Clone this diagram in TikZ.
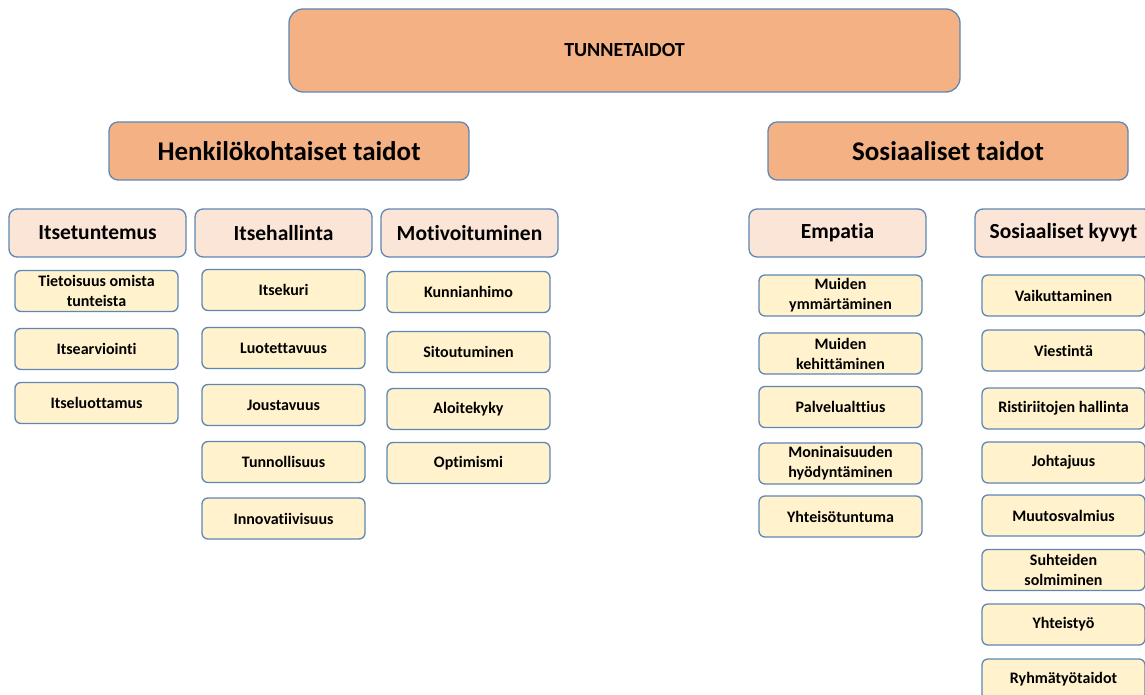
\documentclass[tikz,border=0pt]{standalone}
\usepackage{fontspec}
\setmainfont{Carlito}[Ligatures=NoCommon]
\usetikzlibrary{positioning}
\definecolor{peach}{HTML}{F4B183}
\definecolor{lightpeach}{HTML}{FBE5D6}
\definecolor{cream}{HTML}{FFF2CC}
\definecolor{edgeblue}{HTML}{5E87B5}

\begin{document}
\begin{tikzpicture}[
    x=1pt, y=-1pt,
    box/.style={draw=edgeblue, line width=1.3pt, align=center, inner sep=1pt, font=\bfseries},
    root/.style={box, fill=peach, rounded corners=14pt, minimum width=671pt, minimum height=83pt, font=\bfseries\fontsize{20}{24}\selectfont},
    branch/.style={box, fill=peach, rounded corners=9pt, minimum width=360pt, minimum height=58pt, font=\bfseries\fontsize{27}{30}\selectfont},
    group/.style={box, fill=lightpeach, rounded corners=8pt, minimum width=177pt, minimum height=48pt, font=\bfseries\fontsize{21.5}{24}\selectfont},
    leaf/.style={box, fill=cream, rounded corners=6pt, minimum width=163pt, minimum height=41pt, font=\bfseries\fontsize{16}{20}\selectfont},
]
    \useasboundingbox (0,0) rectangle (1145,695);

    % --- Top levels ---
    \node[root] (tunne) at (624.5, 50.5) {TUNNETAIDOT};
    \node[branch] (henk) at (289, 151) {Henkilökohtaiset taidot};
    \node[branch] (sos) at (948, 151) {Sosiaaliset taidot};

    % --- Groups ---
    \node[group] (itsetunt) at (97.5, 233) {Itsetuntemus};
    \node[group] (itsehall) at (283.5, 233) {Itsehallinta};
    \node[group] (motiv) at (469.5, 233) {Motivoituminen};
    \node[group] (empatia) at (837.5, 233) {Empatia};
    \node[group] (kyvyt) at (1063.5, 233) {Sosiaaliset kyvyt};

    % --- Leaves ---
    \foreach \y/\t [count=\i] in {291/{Tietoisuus omista\\tunteista}, 349/Itsearviointi, 403/Itseluottamus}
        \node[leaf] (tunt\i) at (96.5, \y) {\t};
    \foreach \y/\t [count=\i] in {290/Itsekuri, 348/Luotettavuus, 405/Joustavuus, 462/Tunnollisuus, 518.5/Innovatiivisuus}
        \node[leaf] (hall\i) at (283.5, \y) {\t};
    \foreach \y/\t [count=\i] in {292/Kunnianhimo, 352/Sitoutuminen, 409/Aloitekyky, 463/Optimismi}
        \node[leaf] (moti\i) at (468.5, \y) {\t};
    \foreach \y/\t [count=\i] in {295.5/{Muiden\\ymmärtäminen}, 353.5/{Muiden\\kehittäminen}, 407/Palvelualttius, 463.5/{Moninaisuuden\\hyödyntäminen}, 516.5/Yhteisötuntuma}
        \node[leaf] (empa\i) at (840.5, \y) {\t};
    \foreach \y/\t [count=\i] in {295.5/Vaikuttaminen, 350.5/Viestintä, 408.5/Ristiriitojen hallinta, 462.5/Johtajuus, 515.5/Muutosvalmius, 570/{Suhteiden\\solmiminen}, 624.5/Yhteistyö, 679.5/Ryhmätyötaidot}
        \node[leaf] (kyky\i) at (1063.5, \y) {\t};

\end{tikzpicture}
\end{document}
